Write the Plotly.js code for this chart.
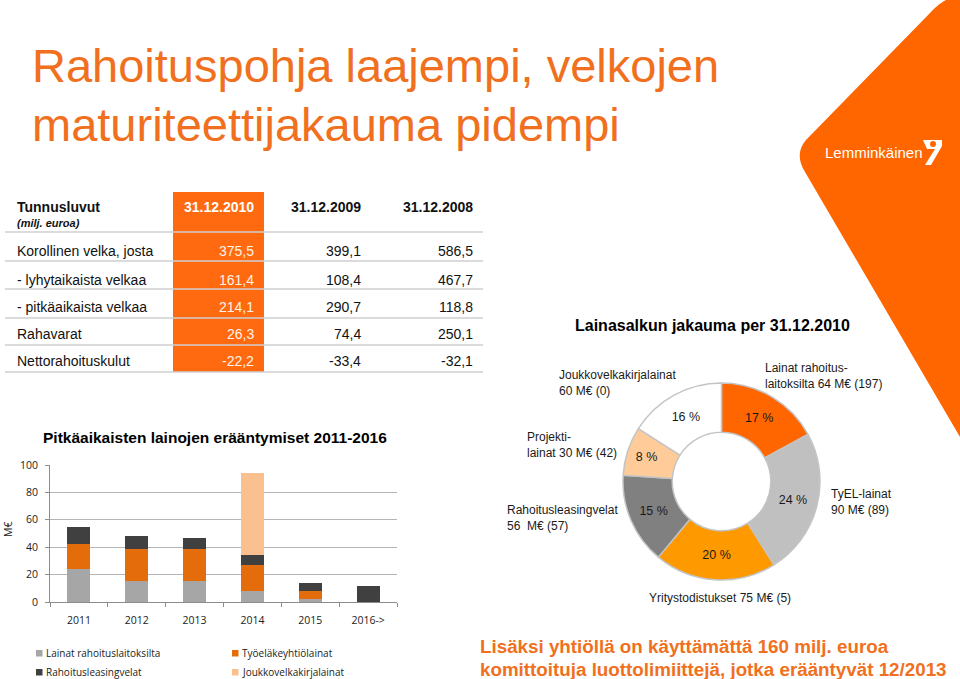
<!DOCTYPE html>
<html><head><meta charset="utf-8">
<script src="https://cdn.plot.ly/plotly-3.0.1.min.js"></script>
<style>
html,body{margin:0;padding:0;background:#fff;width:960px;height:679px;overflow:hidden}
#chart{position:absolute;left:0;top:0;width:960px;height:679px;overflow:hidden}
</style>
</head><body><div id="chart"></div>
<script>
// ---------- Bar chart data (M€) ----------
const years = ['2011', '2012', '2013', '2014', '2015', '2016->'];
const lainatRahoituslaitoksilta = [24, 15.5, 15, 8, 2, 0];
const tyoelakeyhtiolainat = [18.5, 23, 23.5, 19, 6, 0];
const rahoitusleasingvelat = [12.5, 9.5, 8, 7, 6, 12];
const joukkovelkakirjalainat = [0, 0, 0, 60, 0, 0];
const barNames = ['Lainat rahoituslaitoksilta', 'Työeläkeyhtiölainat', 'Rahoitusleasingvelat', 'Joukkovelkakirjalainat'];

// ---------- Donut data (M€, previous year in brackets) ----------
const donutLabels = ['Lainat rahoituslaitoksilta', 'TyEL-lainat', 'Yritystodistukset', 'Rahoitusleasingvelat', 'Projektilainat', 'Joukkovelkakirjalainat'];
const donutValues = [64, 90, 75, 56, 30, 60];
const donutCallouts = [
  'Lainat rahoitus-<br>laitoksilta 64 M€ (197)',
  'TyEL-lainat<br>90 M€ (89)',
  'Yritystodistukset 75 M€ (5)',
  'Rahoitusleasingvelat<br>56  M€ (57)',
  'Projekti-<br>lainat 30 M€ (42)',
  'Joukkovelkakirjalainat<br>60 M€ (0)'
];

// ---------- Table data ----------
const tableRowLabels = ['Korollinen velka, josta', '- lyhytaikaista velkaa', '- pitkäaikaista velkaa', 'Rahavarat', 'Nettorahoituskulut'];
const tableColumns = ['31.12.2010', '31.12.2009', '31.12.2008'];
const values2010 = ['375,5', '161,4', '214,1', '26,3', '-22,2'];
const values2009 = ['399,1', '108,4', '290,7', '74,4', '-33,4'];
const values2008 = ['586,5', '467,7', '118,8', '250,1', '-32,1'];

// ---------- helpers (pixel -> paper) ----------
const W = 960, H = 679;
const X = p => p / W;
const Y = p => 1 - p / H;
const ARIAL = 'Liberation Sans, Arial, sans-serif';
const CAL = 'Open Sans, Liberation Sans, sans-serif';
const ORANGE = '#FF6A10';
const TITLE_OR = '#F07020';

function pathPx(segs) {
  return segs.map(s => s[0] + s.slice(1).map((v, i) => (i % 2 === 0 ? X(v) : Y(v)).toFixed(5)).join(',')).join(' ');
}
function ann(text, x, y, o) {
  o = o || {};
  return Object.assign({
    text: text, xref: 'paper', yref: 'paper', x: X(x), y: Y(y),
    xanchor: o.xanchor || 'left', yanchor: 'middle', showarrow: false,
    align: o.align || 'left',
    font: { family: o.family || ARIAL, size: o.size || 14, color: o.color || '#111' }
  }, o.extra || {});
}

// ---------- traces ----------
const barColors = ['#A6A6A6', '#E46C0A', '#404040', '#FAC090'];
const barSeries = [lainatRahoituslaitoksilta, tyoelakeyhtiolainat, rahoitusleasingvelat, joukkovelkakirjalainat];
const traces = barSeries.map((vals, i) => ({
  type: 'bar', x: years, y: vals, name: barNames[i],
  marker: { color: barColors[i] }, xaxis: 'x', yaxis: 'y',
  showlegend: false, hoverinfo: 'x+y+name'
}));

const total = donutValues.reduce((a, b) => a + b, 0);
traces.push({
  type: 'pie', labels: donutLabels, values: donutValues,
  text: donutValues.map(v => Math.round(v / total * 100) + ' %'),
  textinfo: 'text', textposition: 'inside', insidetextorientation: 'horizontal',
  textfont: { family: ARIAL, size: 12.5, color: '#1a1a1a' },
  hole: 0.5, sort: false, direction: 'clockwise', rotation: 0,
  marker: { colors: ['#FF6600', '#C0C0C0', '#FF9900', '#808080', '#FFCC99', '#FFFFFF'],
            line: { color: '#C4C4C4', width: 1.5 } },
  domain: { x: [X(623), X(820)], y: [Y(580), Y(383)] },
  showlegend: false
});

// ---------- shapes ----------
const shapes = [];
shapes.push({
  type: 'path', xref: 'paper', yref: 'paper', layer: 'below',
  fillcolor: '#FF6600', line: { width: 0 },
  path: pathPx([['M', 960, 0], ['L', 946, 0], ['Q', 938, 4, 930, 13], ['L', 806, 140],
                ['Q', 794, 154, 805, 172], ['L', 960, 437], ['Z']])
});
// logo icon
shapes.push({
  type: 'path', xref: 'paper', yref: 'paper', fillcolor: '#FFFFFF', line: { width: 0 },
  path: pathPx([['M', 923, 140], ['L', 942, 140], ['L', 942, 146], ['L', 931, 165], ['L', 925, 165], ['L', 935, 149], ['L', 927, 149], ['Z']])
});
shapes.push({
  type: 'circle', xref: 'paper', yref: 'paper', fillcolor: '#FF6600', line: { width: 0 },
  x0: X(930), x1: X(936), y0: Y(147), y1: Y(141)
});
// table orange column and row separators
shapes.push({ type: 'rect', xref: 'paper', yref: 'paper', layer: 'below', fillcolor: ORANGE, line: { width: 0 },
  x0: X(173), x1: X(264), y0: Y(372), y1: Y(192) });
[232, 261, 289, 318, 345, 372].forEach(yy => shapes.push({
  type: 'line', xref: 'paper', yref: 'paper', x0: X(5), x1: X(483), y0: Y(yy), y1: Y(yy),
  line: { color: '#CFCFCF', width: 1.5 }
}));

// ---------- annotations ----------
const annotations = [];
annotations.push(ann('Rahoituspohja laajempi, velkojen', 30, 66, { size: 47, color: TITLE_OR }));
annotations.push(ann('maturiteettijakauma pidempi', 30, 124, { size: 47, color: TITLE_OR }));
annotations.push(ann('Lemminkäinen', 823, 152, { size: 15, color: '#FFFFFF' }));

annotations.push(ann('<b>Tunnusluvut</b>', 15, 207, { size: 14 }));
annotations.push(ann('<b><i>(milj. euroa)</i></b>', 15, 223, { size: 11 }));
const colRight = [256, 363, 475];
tableColumns.forEach((c, i) => annotations.push(ann('<b>' + c + '</b>', colRight[i], 207,
  { size: 14, xanchor: 'right', color: i === 0 ? '#FFFFFF' : '#111' })));
const rowY = [251, 280, 307, 334, 361];
tableRowLabels.forEach((lab, r) => {
  annotations.push(ann(lab, 15, rowY[r], { size: 14 }));
  annotations.push(ann(values2010[r], colRight[0], rowY[r], { size: 14, xanchor: 'right', color: '#FFF3E8' }));
  annotations.push(ann(values2009[r], colRight[1], rowY[r], { size: 14, xanchor: 'right' }));
  annotations.push(ann(values2008[r], colRight[2], rowY[r], { size: 14, xanchor: 'right' }));
});

annotations.push(ann('<b>Pitkäaikaisten lainojen erääntymiset 2011-2016</b>', 41, 437, { size: 15.5, color: '#000' }));
annotations.push(ann('M€', 8, 530, { size: 10.5, family: CAL, xanchor: 'center', color: '#222', extra: { textangle: -90 } }));

// manual legend for the bar chart
const legendPos = [[36, 653], [232, 653], [36, 672], [232, 672]];
barNames.forEach((nm, i) => {
  const p = legendPos[i];
  shapes.push({ type: 'rect', xref: 'paper', yref: 'paper', fillcolor: barColors[i], line: { width: 0 },
    x0: X(p[0]), x1: X(p[0] + 6.5), y0: Y(p[1] + 3.5), y1: Y(p[1] - 3) });
  annotations.push(ann(nm, p[0] + 7.5, p[1], { size: 10, family: CAL, color: '#222' }));
});

annotations.push(ann('<b>Lainasalkun jakauma per 31.12.2010</b>', 712, 325, { size: 16, xanchor: 'center', color: '#000' }));
const calloutPos = [[763, 376, 'left'], [829, 502, 'left'], [720, 598, 'center'], [505, 518, 'left'], [525, 445, 'left'], [557, 383, 'left']];
donutCallouts.forEach((t, i) => annotations.push(ann(t, calloutPos[i][0], calloutPos[i][1],
  { size: 12, xanchor: calloutPos[i][2], color: '#1a1a1a' })));

annotations.push(ann('<b>Lisäksi yhtiöllä on käyttämättä 160 milj. euroa</b>', 478, 646, { size: 18.8, color: TITLE_OR }));
annotations.push(ann('<b>komittoituja luottolimiittejä, jotka erääntyvät 12/2013</b>', 478, 669, { size: 18.8, color: TITLE_OR }));

// ---------- layout ----------
const layout = {
  width: W, height: H, margin: { l: 0, r: 0, t: 0, b: 0, autoexpand: false },
  paper_bgcolor: '#FFFFFF', plot_bgcolor: 'rgba(0,0,0,0)',
  barmode: 'stack', bargap: 0.6, showlegend: false,
  xaxis: {
    domain: [X(50), X(397)], type: 'category', tickson: 'boundaries',
    ticks: 'outside', ticklen: 4, tickcolor: '#8C8C8C',
    showline: true, linecolor: '#8C8C8C', linewidth: 1, showgrid: false,
    tickfont: { family: CAL, size: 10.5, color: '#222' }, ticklabelstandoff: 8,
    automargin: false, fixedrange: true
  },
  yaxis: {
    domain: [Y(602), Y(465)], range: [0, 100], dtick: 20,
    ticks: 'outside', ticklen: 4, tickcolor: '#8C8C8C',
    showline: true, linecolor: '#8C8C8C', linewidth: 1,
    showgrid: true, gridcolor: '#B5B5B5', gridwidth: 1, zeroline: false,
    tickfont: { family: CAL, size: 10.5, color: '#222' }, ticklabelstandoff: 5,
    automargin: false, fixedrange: true
  },
  shapes: shapes, annotations: annotations
};

Plotly.newPlot('chart', traces, layout, { displayModeBar: false });
</script>
</body></html>
